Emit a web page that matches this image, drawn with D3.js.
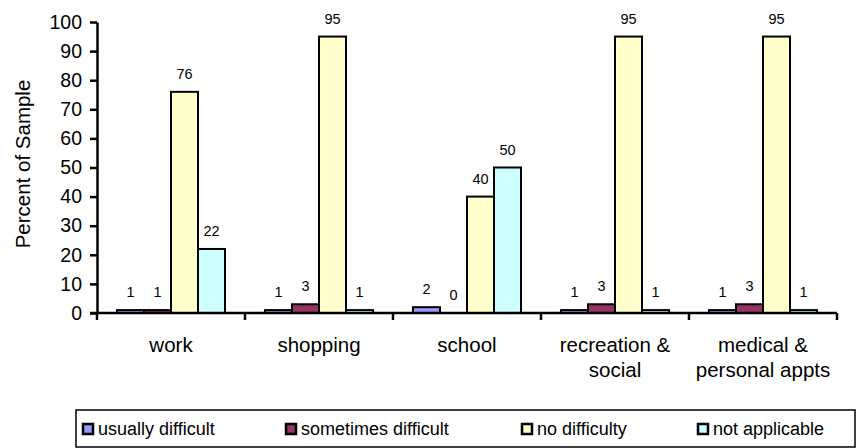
<!DOCTYPE html>
<html><head><meta charset="utf-8">
<script src="https://cdn.jsdelivr.net/npm/d3@7"></script>
<style>body{margin:0;background:#fff}svg{display:block;font-family:Arial,"Liberation Sans",sans-serif}</style>
</head><body><svg id="c" width="856" height="448"></svg>
<script>
const categories = [["work"],["shopping"],["school"],["recreation &","social"],["medical &","personal appts"]];
const seriesNames = ["usually difficult","sometimes difficult","no difficulty","not applicable"];
const usuallyDifficult = [1,1,2,1,1];
const sometimesDifficult = [1,3,0,3,3];
const noDifficulty = [76,95,40,95,95];
const notApplicable = [22,1,50,1,1];
const yTicks = [0,10,20,30,40,50,60,70,80,90,100];
const colors = ["#9999FF","#993366","#FFFFCC","#CCFFFF"];

const seriesValues = [usuallyDifficult, sometimesDifficult, noDifficulty, notApplicable];
const catKeys = categories.map(c => c.join(" "));
const svg = d3.select("#c");
const FONT = "Arial, 'Liberation Sans', sans-serif";
const x0 = d3.scaleBand().domain(catKeys).range([97, 837]).padding(0);
const x1 = d3.scaleBand().domain(seriesNames).range([0, x0.bandwidth()]).paddingInner(0).paddingOuter(0.74);
const y = d3.scaleLinear().domain([0, 100]).range([313, 22]);

// bars
catKeys.forEach((k, ci) => {
  const g = svg.append("g").attr("transform", `translate(${x0(k)},0)`);
  seriesNames.forEach((s, si) => {
    const v = seriesValues[si][ci];
    g.append("rect").attr("x", x1(s)).attr("y", y(v))
      .attr("width", x1.bandwidth()).attr("height", y(0) - y(v))
      .attr("fill", colors[si]).attr("stroke", "#000").attr("stroke-width", 2);
    g.append("text").attr("x", x1(s) + x1.bandwidth() / 2).attr("y", y(v) - 13)
      .attr("text-anchor", "middle").attr("font-size", 14.5).attr("fill", "#000").text(v);
  });
});

// y axis
const ya = svg.append("g").attr("transform", "translate(97,0)")
  .call(d3.axisLeft(y).tickValues(yTicks).tickSize(7).tickSizeOuter(0).tickPadding(8));
ya.select(".domain").attr("stroke", "#000").attr("stroke-width", 2.5);
ya.selectAll(".tick line").attr("stroke", "#000").attr("stroke-width", 2.5);
ya.selectAll(".tick text").attr("font-size", 19.5).attr("font-family", FONT).attr("fill", "#000");

// x axis
const xa = svg.append("g").attr("transform", "translate(0,313)");
xa.append("line").attr("x1", 90).attr("x2", 837).attr("y1", 0).attr("y2", 0).attr("stroke", "#000").attr("stroke-width", 2.5);
const bounds = catKeys.map(k => x0(k)).concat([x0(catKeys[catKeys.length - 1]) + x0.bandwidth()]);
bounds.forEach(b => xa.append("line").attr("x1", b).attr("x2", b).attr("y1", 0).attr("y2", 7).attr("stroke", "#000").attr("stroke-width", 2.5));
categories.forEach((c, ci) => {
  const cx = x0(catKeys[ci]) + x0.bandwidth() / 2;
  const t = xa.append("text").attr("x", cx).attr("y", 39)
    .attr("text-anchor", "middle").attr("font-size", 20.5).attr("fill", "#000");
  c.forEach((line, li) => t.append("tspan").attr("x", cx).attr("dy", li === 0 ? 0 : 25).text(line));
});

// y title
svg.append("text").attr("transform", "translate(30,164) rotate(-90)").attr("text-anchor", "middle")
  .attr("font-size", 20.5).attr("fill", "#000").text("Percent of Sample");

// legend
svg.append("rect").attr("x", 76).attr("y", 410).attr("width", 779).attr("height", 37)
  .attr("fill", "#fff").attr("stroke", "#000").attr("stroke-width", 1.5);
const legX = [83, 286, 522, 698];
seriesNames.forEach((s, si) => {
  svg.append("rect").attr("x", legX[si]).attr("y", 424).attr("width", 10).attr("height", 10)
    .attr("fill", colors[si]).attr("stroke", "#000").attr("stroke-width", 2.5);
  svg.append("text").attr("x", legX[si] + 15).attr("y", 434.5).attr("font-size", 18).attr("fill", "#000").text(s);
});
</script></body></html>
